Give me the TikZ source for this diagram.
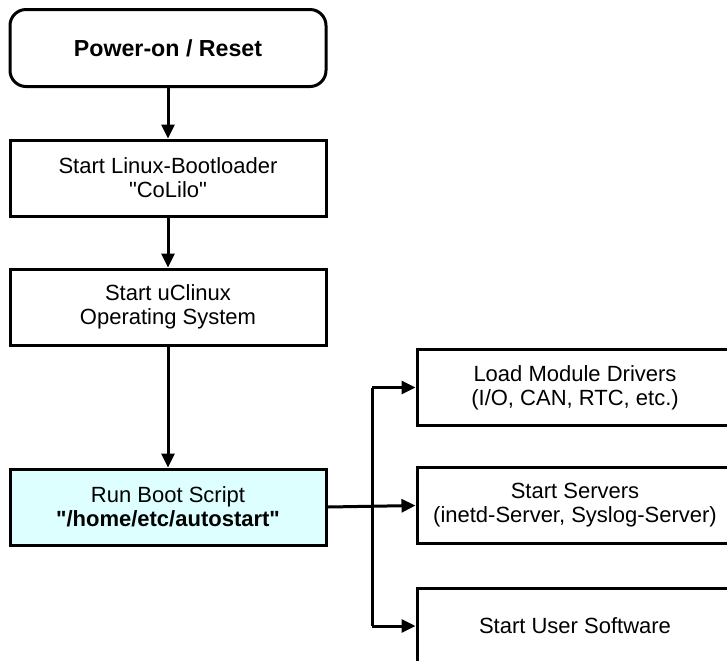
\documentclass[tikz,border=0pt]{standalone}
\usepackage{fontspec}
\setmainfont{Liberation Sans}
\usetikzlibrary{arrows.meta}
\definecolor{scriptfill}{HTML}{DDFFFF}
\tikzset{
	stage/.style={draw, line width=1.5pt, minimum width=158pt, minimum height=38pt, align=center, inner sep=2pt},
	flow/.style={line width=1.5pt, -{Triangle[length=7pt,width=6.5pt]}},
}

\begin{document}
\begin{tikzpicture}[x=0.5pt, y=-0.5pt, font=\fontsize{11}{12}\selectfont]
			%%%%% START %%%%%
			\useasboundingbox (0, 0) rectangle (727, 660);
			
			% boot chain
			\node[stage, rounded corners=8pt, minimum height=38.5pt, font=\fontsize{11.6}{12}\selectfont] (reset) at (168, 48) {\textbf{Power-on / Reset}};
			\node[stage] (loader) at (168, 178) {Start Linux-Bootloader\\\textquotedbl CoLilo\textquotedbl};
			\node[stage] (kernel) at (168, 307) {Start uClinux\\Operating System};
			\node[stage, fill=scriptfill] (script) at (168, 507) {Run Boot Script\\\textbf{\textquotedbl/home/etc/autostart\textquotedbl}};
			
			% started by the script
			\node[stage] (drivers) at (575, 387.5) {Load Module Drivers\\(I/O, CAN, RTC, etc.)};
			\node[stage] (servers) at (575, 505.5) {Start Servers\\(inetd-Server, Syslog-Server)};
			\node[stage] (user) at (575, 626) {Start User Software};
			
			\draw[flow] (reset) -- (loader);
			\draw[flow] (loader) -- (kernel);
			\draw[flow] (kernel) -- (script);
			\draw[flow] (script.east) -- (servers.west);
			
			\coordinate (fork) at (372, 0);
			\draw[flow] (drivers.west -| fork) -- (drivers.west);
			\draw[flow] (user.west -| fork) -- (user.west);
			\draw[line width=1.5pt] (drivers.west -| fork) -- (user.west -| fork);
			%%%%% END %%%%%
\end{tikzpicture}
\end{document}
